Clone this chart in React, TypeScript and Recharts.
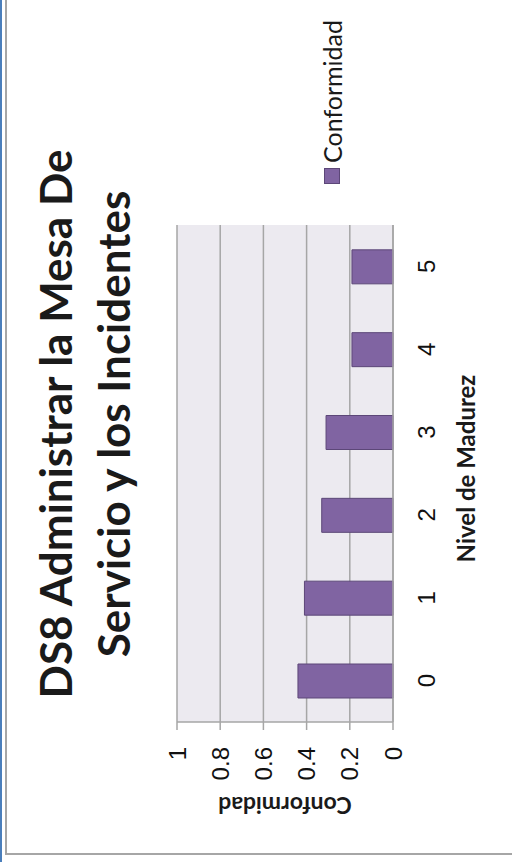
import { BarChart, Bar, XAxis, YAxis, CartesianGrid } from 'recharts';

// Nivel de madurez (categorías) y conformidad por nivel
const niveles = ['0', '1', '2', '3', '4', '5'];
const conformidad = [0.44, 0.41, 0.33, 0.31, 0.19, 0.19];
const valueTicks = [0, 0.2, 0.4, 0.6, 0.8, 1];

const tituloLineas = ['DS8 Administrar la Mesa De', 'Servicio y los Incidentes'];
const serieNombre = 'Conformidad';
const ejeX = 'Nivel de Madurez';
const ejeY = 'Conformidad';

const data = niveles.map((nivel, i) => ({ nivel, conformidad: conformidad[i] }));

const W = 862;
const H = 512;
const PURPLE = '#8064A2';
const PURPLE_DARK = '#5C4778';
const GRID = '#A6A6A6';
const TITLE_FONT = 'Lato, "Open Sans", sans-serif';
const TICK_FONT = '"Liberation Sans", Arial, sans-serif';
const tickStyle = { fill: '#111', fontSize: 24, style: { fontFamily: TICK_FONT } };

const YAxisTitle = ({ viewBox }: any) => {
  const x = viewBox.x - 15;
  const y = viewBox.y + viewBox.height / 2;
  return (
    <text
      x={x}
      y={y}
      transform={`rotate(-90, ${x}, ${y})`}
      textAnchor="middle"
      style={{ fontFamily: TITLE_FONT }}
      fontWeight={700}
      fontSize={23}
      fill="#1a1a1a"
    >
      {ejeY}
    </text>
  );
};

// leyenda a la derecha del área de trazado
const LegendBox = () => (
  <div
    style={{
      position: 'absolute',
      left: 678,
      top: 317,
      display: 'flex',
      alignItems: 'center',
      fontFamily: TITLE_FONT,
      fontSize: 25,
      color: '#1a1a1a',
      whiteSpace: 'nowrap',
    }}
  >
    <span
      style={{
        width: 14,
        height: 14,
        background: PURPLE,
        border: `1px solid ${PURPLE_DARK}`,
        marginRight: 5,
        display: 'inline-block',
      }}
    />
    <span>{serieNombre}</span>
  </div>
);

const Chart = () => (
  <div style={{ position: 'relative', width: W, height: H, background: '#fff', fontFamily: TICK_FONT }}>
    <div style={{ position: 'absolute', left: 0, top: 0, width: W, height: 2, background: '#4A7EBB' }} />
    <div
      style={{
        position: 'absolute',
        left: 7,
        top: 5,
        width: W - 7,
        height: H - 5,
        boxSizing: 'border-box',
        borderTop: `2px solid ${GRID}`,
        borderLeft: `2px solid ${GRID}`,
      }}
    />
    <div style={{ position: 'absolute', left: 0, top: 0 }}>
      <BarChart width={W} height={H} data={data} margin={{ top: 177, right: 225, bottom: 89, left: 80 }}>
        <CartesianGrid vertical={false} stroke={GRID} strokeWidth={1.5} fill="#ECEAF0" />
        <XAxis
          dataKey="nivel"
          height={30}
          stroke={GRID}
          strokeWidth={1.5}
          tickLine={false}
          tickSize={0}
          tickMargin={25}
          tick={tickStyle}
          label={{
            value: ejeX,
            position: 'bottom',
            offset: 35,
            dx: 5,
            fill: '#1a1a1a',
            fontWeight: 700,
            fontSize: 24,
            style: { fontFamily: TITLE_FONT },
          }}
        />
        <YAxis
          width={60}
          domain={[0, 1]}
          ticks={valueTicks}
          stroke={GRID}
          strokeWidth={1.5}
          tickSize={8}
          tickMargin={17}
          tick={tickStyle}
          label={<YAxisTitle />}
        />
        <Bar
          dataKey="conformidad"
          name={serieNombre}
          fill={PURPLE}
          stroke={PURPLE_DARK}
          strokeWidth={1}
          barSize={34}
          isAnimationActive={false}
        />
      </BarChart>
    </div>
    <LegendBox />
    <svg width={W} height={H} style={{ position: 'absolute', left: 0, top: 0, pointerEvents: 'none' }}>
      {tituloLineas.map((line, i) => (
        <text
          key={line}
          x={438}
          y={72 + i * 58}
          textAnchor="middle"
          style={{ fontFamily: TITLE_FONT }}
          fontWeight={700}
          fontSize={44}
          fill="#1a1a1a"
        >
          {line}
        </text>
      ))}
    </svg>
  </div>
);

export default function App() {
  return (
    <div style={{ position: 'absolute', left: 0, top: 0, width: 512, height: 862, overflow: 'hidden' }}>
      <div
        style={{
          position: 'absolute',
          left: 0,
          top: 0,
          width: W,
          height: H,
          transformOrigin: '0 0',
          transform: `translate(0px, ${W}px) rotate(-90deg)`,
        }}
      >
        <Chart />
      </div>
    </div>
  );
}
